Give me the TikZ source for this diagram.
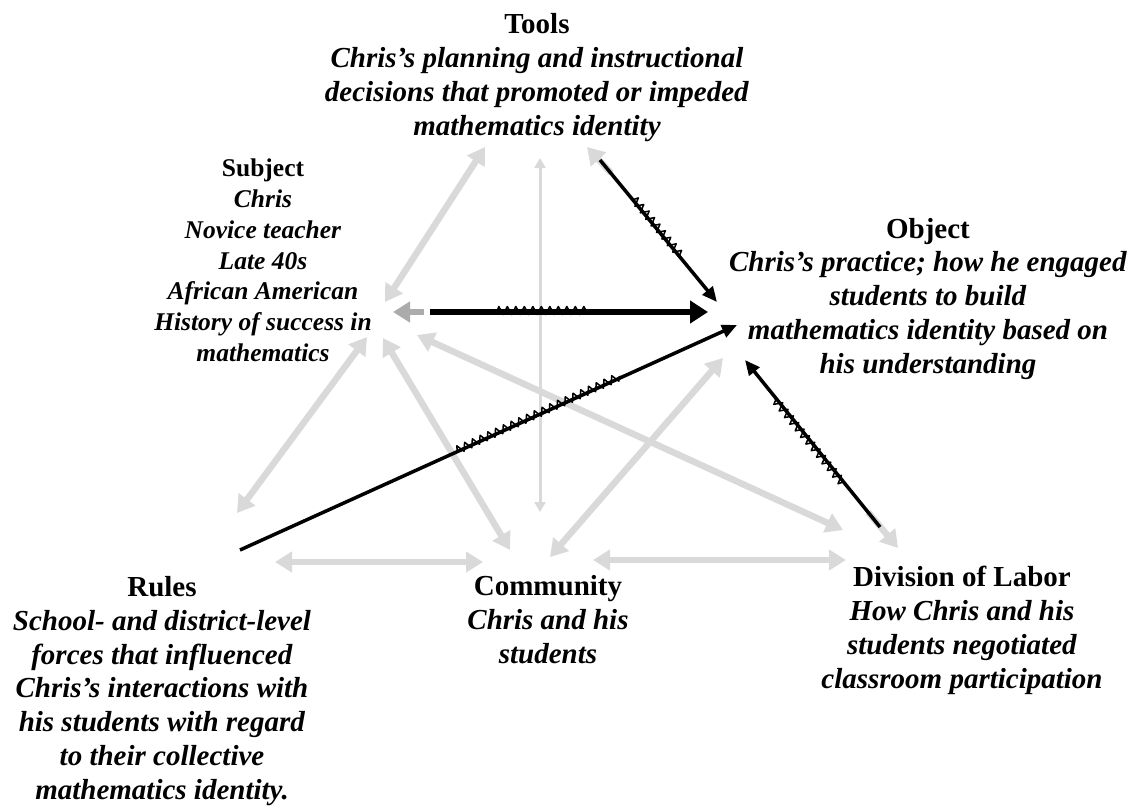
\documentclass[tikz,border=0pt]{standalone}
\usepackage{fontspec}
\setmainfont{Liberation Serif}
\usetikzlibrary{arrows.meta,decorations.pathmorphing,calc}
\definecolor{lgray}{HTML}{D9D9D9}
\definecolor{mgray}{HTML}{ABABAB}
\begin{document}
\begin{tikzpicture}[x=1pt,y=-1pt,
  lbl/.style={align=center, inner sep=0pt, anchor=base, font=\fontsize{29}{33.7}\selectfont\bfseries},
  slbl/.style={align=center, inner sep=0pt, anchor=base, font=\fontsize{25.5}{30.8}\selectfont\bfseries},
  gtip/.tip={Triangle[length=17pt,width=20pt]},
  garrow/.style={draw=lgray, line width=6.5pt, gtip-gtip},
  ghead/.style={draw=lgray, line width=6.5pt, -gtip},
  thinarrow/.style={draw=lgray, line width=3pt, {Triangle[length=10pt,width=11pt]}-{Triangle[length=10pt,width=11pt]}},
  bigblack/.style={draw=black, line width=6pt, -{Triangle[length=18pt,width=22pt]}},
  blackarrow/.style={draw=black, line width=3.5pt, -{Triangle[length=15pt,width=13pt]}},
  zz/.style={draw=black, line width=1.5pt, line join=round, decorate, decoration={zigzag, amplitude=4pt, segment length=8.5pt, raise=1.5pt}}
]
\useasboundingbox (0,0) rectangle (1134,806);

% ---- labels (anchor = baseline of the last line) ----
\node[lbl] (tools) at (537,135) {Tools\\\textit{Chris’s planning and instructional}\\\textit{decisions that promoted or impeded}\\\textit{mathematics identity}};
\node[slbl] (subject) at (263,361.5) {Subject\\\textit{Chris}\\\textit{Novice teacher}\\\textit{Late 40s}\\\textit{African American}\\\textit{History of success in}\\\textit{mathematics}};
\node[lbl] (object) at (928,373) {Object\\\textit{Chris’s practice; how he engaged}\\\textit{students to build}\\\textit{mathematics identity based on}\\\textit{his understanding}};
\node[lbl] (rules) at (162,799) {Rules\\\textit{School- and district-level}\\\textit{forces that influenced}\\\textit{Chris’s interactions with}\\\textit{his students with regard}\\\textit{to their collective}\\\textit{mathematics identity.}};
\node[lbl] (community) at (548,663) {Community\\\textit{Chris and his}\\\textit{students}};
\node[lbl] (division) at (962,688) {Division of Labor\\\textit{How Chris and his}\\\textit{students negotiated}\\\textit{classroom participation}};

% ---- end points ----
\coordinate (ts1) at (485,147);  \coordinate (ts2) at (385,302);
\coordinate (tc1) at (540,158);  \coordinate (tc2) at (540,512);
\coordinate (sc1) at (383,338);  \coordinate (sc2) at (510,550);
\coordinate (sr1) at (367,337);  \coordinate (sr2) at (237,513);
\coordinate (sd1) at (417,335);  \coordinate (sd2) at (843,530);
\coordinate (co1) at (550,557);  \coordinate (co2) at (723,358);
\coordinate (rc1) at (275,562);  \coordinate (rc2) at (483,562);
\coordinate (cd1) at (593,560);  \coordinate (cd2) at (846,560);

\coordinate (b1s) at (240,550);  \coordinate (b1e) at (737,325);
\coordinate (b2s) at (880,527);  \coordinate (b2e) at (745,360);
\coordinate (b3s) at (600,160);  \coordinate (b3e) at (717,302);
\coordinate (b4s) at (430,312);  \coordinate (b4e) at (708,312);

\coordinate (g2s) at (868,512);  \coordinate (g2e) at (898,548);
\coordinate (g3s) at (611,173);  \coordinate (g3e) at (587,147);
\coordinate (g4s) at (424,312);  \coordinate (g4e) at (393,312);

% ---- grey connectors ----
\draw[garrow] (ts1) -- (ts2);
\draw[thinarrow] (tc1) -- (tc2);
\draw[garrow] (sc1) -- (sc2);
\draw[garrow] (sr1) -- (sr2);
\draw[garrow] (sd1) -- (sd2);
\draw[garrow] (co1) -- (co2);
\draw[garrow] (rc1) -- (rc2);
\draw[garrow] (cd1) -- (cd2);
\draw[ghead] (g2s) -- (g2e);
\draw[ghead] (g3s) -- (g3e);
\draw[ghead, draw=mgray] (g4s) -- (g4e);

% ---- black connectors ----
\draw[blackarrow] (b1s) -- (b1e);
\draw[blackarrow] (b2s) -- (b2e);
\draw[blackarrow] (b3s) -- (b3e);
\draw[bigblack] (b4s) -- (b4e);

% ---- zigzags ----
\coordinate (z1a) at ($(b1s)!0.437!(b1e)$); \coordinate (z1b) at ($(b1s)!0.771!(b1e)$);
\coordinate (z2a) at ($(b2s)!0.27!(b2e)$);  \coordinate (z2b) at ($(b2s)!0.78!(b2e)$);
\coordinate (z3a) at ($(b3s)!0.28!(b3e)$);  \coordinate (z3b) at ($(b3s)!0.68!(b3e)$);
\coordinate (z4a) at ($(b4s)!0.24!(b4e)$);  \coordinate (z4b) at ($(b4s)!0.576!(b4e)$);
\draw[zz] (z1a) -- (z1b);
\draw[zz] (z2a) -- (z2b);
\draw[zz] (z3a) -- (z3b);
\draw[zz] (z4a) -- (z4b);
\end{tikzpicture}
\end{document}
